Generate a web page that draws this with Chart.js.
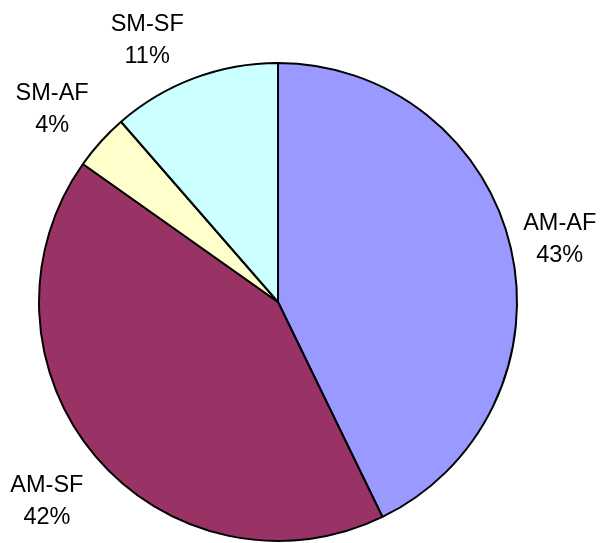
<!DOCTYPE html>
<html>
<head>
<meta charset="utf-8">
<script src="https://cdn.jsdelivr.net/npm/chart.js@4.4.1/dist/chart.umd.min.js"></script>
<style>
  html, body { margin: 0; padding: 0; background: #ffffff; }
  #wrap { width: 603px; height: 543px; position: relative; }
</style>
</head>
<body>
<div id="wrap"><canvas id="c"></canvas></div>
<script>
// ---- data ----
const categories = ["AM-AF", "AM-SF", "SM-AF", "SM-SF"];
const shares = [42.8, 42.0, 3.8, 11.4];

// ---- styles ----
const sliceColors = ["#9999FF", "#993366", "#FFFFCC", "#CCFFFF"];
const labelFont = "23.5px 'Liberation Sans', Arial, sans-serif";
// label placement relative to each slice's mid angle (degrees) and outer radius (px)
const labelAngleNudge = [0.1, -0.2, -1.4, -5.9];
const labelRadialGap = [50, 65, 59, 55];

const total = shares.reduce((a, b) => a + b, 0);

const outsideLabels = {
  id: "outsideLabels",
  afterDatasetsDraw(chart) {
    const ctx = chart.ctx;
    const meta = chart.getDatasetMeta(0);
    ctx.save();
    ctx.font = labelFont;
    ctx.fillStyle = "#000000";
    ctx.textAlign = "center";
    ctx.textBaseline = "alphabetic";
    meta.data.forEach((arc, i) => {
      const p = arc.getProps(["x", "y", "startAngle", "endAngle", "outerRadius"], true);
      const mid = (p.startAngle + p.endAngle) / 2 + labelAngleNudge[i] * Math.PI / 180;
      const d = p.outerRadius + labelRadialGap[i];
      const cx = p.x + Math.cos(mid) * d;
      const cy = p.y + Math.sin(mid) * d;
      const pct = Math.round(shares[i] / total * 100) + "%";
      const top = cy - 25;
      ctx.fillText(categories[i], cx, top + 17.5);
      ctx.fillText(pct, cx, top + 49);
    });
    ctx.restore();
  }
};

new Chart(document.getElementById("c"), {
  type: "pie",
  data: {
    labels: categories,
    datasets: [{
      data: shares,
      backgroundColor: sliceColors,
      borderColor: "#000000",
      borderWidth: 2,
      borderAlign: "center"
    }]
  },
  options: {
    responsive: true,
    maintainAspectRatio: false,
    animation: false,
    layout: { padding: { left: 38, right: 85, top: 62, bottom: 1 } },
    plugins: {
      legend: { display: false },
      tooltip: { enabled: false },
      title: { display: false }
    }
  },
  plugins: [outsideLabels]
});
</script>
</body>
</html>
